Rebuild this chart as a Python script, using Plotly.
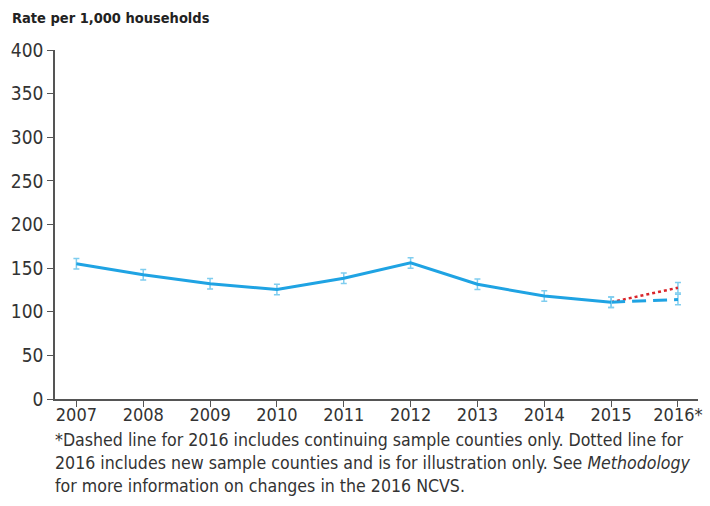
import plotly.graph_objects as go

years = [2007, 2008, 2009, 2010, 2011, 2012, 2013, 2014, 2015]
rates = [155, 142.5, 132, 125.5, 138.5, 156, 131.5, 118, 111]
err = [6, 6, 6, 6, 6, 6, 6, 6, 6]

dashed_years = [2015, 2016]
dashed_rates = [111, 114]
dashed_err = [6, 6]

dotted_years = [2015, 2016]
dotted_rates = [111, 127.5]
dotted_err = [0, 6]

tick_vals = [2007, 2008, 2009, 2010, 2011, 2012, 2013, 2014, 2015, 2016]
tick_text = ["2007", "2008", "2009", "2010", "2011", "2012", "2013", "2014", "2015", "2016*"]

line_blue = "#1fa3e3"
err_blue = "#7fcdef"
font_fam = "DejaVu Sans Condensed, Liberation Sans Narrow, Arial Narrow, sans-serif"

fig = go.Figure()
fig.add_trace(go.Scatter(
    x=dotted_years, y=dotted_rates, mode="lines",
    line=dict(color="#d9262b", width=2.5, dash="dot"),
    error_y=dict(type="data", array=dotted_err, color=err_blue, thickness=1.5, width=3),
    showlegend=False))
fig.add_trace(go.Scatter(
    x=dashed_years, y=dashed_rates, mode="lines",
    line=dict(color=line_blue, width=3, dash="14px,7px"),
    error_y=dict(type="data", array=dashed_err, color=err_blue, thickness=1.5, width=3),
    showlegend=False))
fig.add_trace(go.Scatter(
    x=years, y=rates, mode="lines",
    line=dict(color=line_blue, width=3),
    error_y=dict(type="data", array=err, color=err_blue, thickness=1.5, width=3),
    showlegend=False))

fig.update_layout(
    width=710, height=506,
    margin=dict(l=55, r=8, t=50, b=107),
    paper_bgcolor="white", plot_bgcolor="white",
    font=dict(family=font_fam, size=18, color="#333333"),
    xaxis=dict(range=[2006.68, 2016.3], tickvals=tick_vals, ticktext=tick_text,
               showgrid=False, zeroline=False, showline=True, linecolor="#555555",
               linewidth=1.5, ticks="outside", ticklen=6, tickcolor="#555555",
               ticklabelstandoff=-7,
               tickfont=dict(size=18, color="#333333")),
    yaxis=dict(range=[0, 400], tickvals=[0, 50, 100, 150, 200, 250, 300, 350, 400],
               showgrid=False, zeroline=False, showline=True, linecolor="#555555",
               linewidth=1.5, ticks="outside", ticklen=6, tickcolor="#555555",
               tickfont=dict(size=19, color="#333333")),
    annotations=[
        dict(text="<b>Rate per 1,000 households</b>", xref="paper", yref="paper",
             x=-45/647, y=1 + 32/349, xanchor="left", yanchor="middle", showarrow=False,
             font=dict(size=14.5, color="#222222", family=font_fam)),
        dict(text="*Dashed line for 2016 includes continuing sample counties only. Dotted line for<br>"
                  "2016 includes new sample counties and is for illustration only. See <i>Methodology</i><br>"
                  "for more information on changes in the 2016 NCVS.",
             xref="paper", yref="paper", x=-2/647, y=-29/349, xanchor="left", yanchor="top",
             align="left", showarrow=False,
             font=dict(size=17.6, color="#333333", family=font_fam)),
    ],
)

fig.write_html("out.html")
